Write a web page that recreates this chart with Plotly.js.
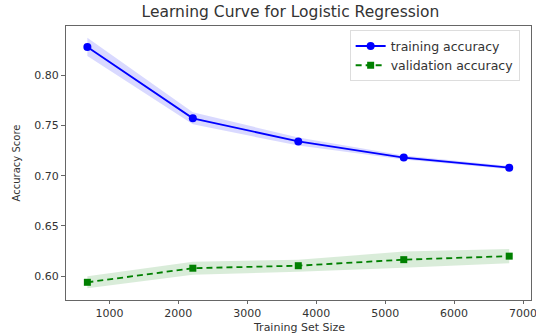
<!DOCTYPE html>
<html>
<head>
<meta charset="utf-8">
<script src="https://cdn.plot.ly/plotly-3.0.1.min.js"></script>
<style>html,body{margin:0;padding:0;background:#fff;}#chart{width:536px;height:335px;}</style>
</head>
<body>
<div id="chart"></div>
<script>
const trainSizes = [680, 2210, 3740, 5270, 6800];
const trainMean = [0.828, 0.757, 0.734, 0.718, 0.708];
const trainStd = [0.009, 0.006, 0.004, 0.002, 0.0015];
const valMean = [0.594, 0.608, 0.6105, 0.6165, 0.620];
const valStd = [0.006, 0.0065, 0.006, 0.008, 0.007];
const xTicks = [1000, 2000, 3000, 4000, 5000, 6000, 7000];
const yTicks = [0.60, 0.65, 0.70, 0.75, 0.80];
const xTitle = 'Training Set Size';

function band(x, m, s, color) {
  const upper = m.map((v, i) => v + s[i]);
  const lower = m.map((v, i) => v - s[i]);
  return {
    x: x.concat(x.slice().reverse()),
    y: upper.concat(lower.slice().reverse()),
    fill: 'toself', fillcolor: color, line: {width: 0}, mode: 'lines',
    hoverinfo: 'skip', showlegend: false, type: 'scatter'
  };
}

const data = [
  band(trainSizes, trainMean, trainStd, 'rgba(0,0,255,0.15)'),
  band(trainSizes, valMean, valStd, 'rgba(0,128,0,0.15)'),
  {x: trainSizes, y: trainMean, mode: 'lines+markers', name: 'training accuracy',
   line: {color: 'blue', width: 1.8}, marker: {symbol: 'circle', size: 8, color: 'blue'}, type: 'scatter'},
  {x: trainSizes, y: valMean, mode: 'lines+markers', name: 'validation accuracy',
   line: {color: 'green', width: 1.8, dash: '6px,4px'}, marker: {symbol: 'square', size: 7, color: 'green'}, type: 'scatter'}
];

const layout = {
  width: 536, height: 335,
  margin: {l: 66, r: 5, t: 26, b: 35},
  paper_bgcolor: '#fff', plot_bgcolor: '#fff',
  font: {family: 'DejaVu Sans', color: '#333', size: 11},
  title: {text: 'Learning Curve for Logistic Regression', font: {size: 15.5, color: '#333'},
          x: 0.542, xref: 'container', xanchor: 'center', y: 1, yref: 'container', yanchor: 'top', pad: {t: 6}},
  xaxis: {range: [370, 7116], tickvals: xTicks, ticktext: xTicks.map(String), ticklabeloverflow: 'allow',
          showgrid: false, zeroline: false, showline: true, linecolor: '#666', linewidth: 1, mirror: true,
          ticks: 'outside', ticklen: 3, tickcolor: '#666', tickfont: {size: 11}},
  yaxis: {range: [0.5764, 0.8488], tickvals: yTicks, ticktext: yTicks.map(v => v.toFixed(2)),
          showgrid: false, zeroline: false, showline: true, linecolor: '#666', linewidth: 1, mirror: true,
          ticks: 'outside', ticklen: 4, tickcolor: '#666', tickfont: {size: 11},
          title: {text: 'Accuracy Score', font: {size: 10}, standoff: 11}},
  annotations: [{text: xTitle, xref: 'paper', yref: 'paper', x: 0.5, y: 0, xanchor: 'center', yanchor: 'middle',
                 yshift: -27, showarrow: false, font: {size: 11, color: '#333'}, borderpad: 0}],
  legend: {x: 0.61, y: 0.984, xanchor: 'left', yanchor: 'top', bgcolor: 'rgba(255,255,255,0.8)',
           bordercolor: '#ddd', borderwidth: 1, font: {size: 12.5}, tracegroupgap: 0},
  showlegend: true
};

Plotly.newPlot('chart', data, layout, {displayModeBar: false, staticPlot: true});
</script>
</body>
</html>
